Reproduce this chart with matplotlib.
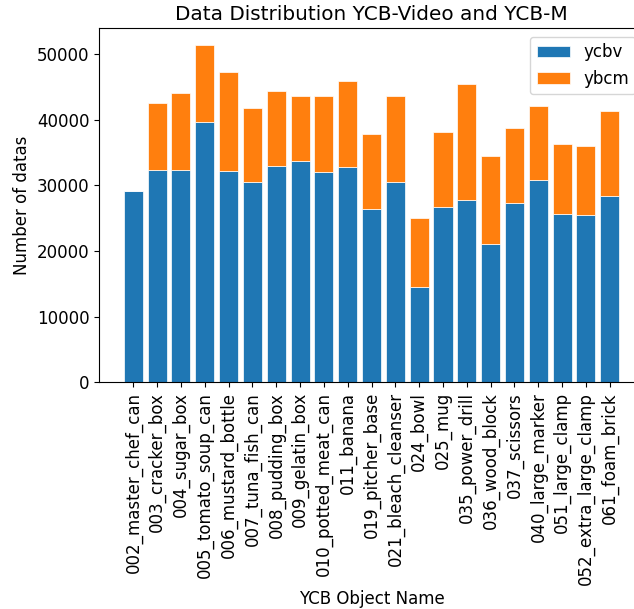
import numpy as np
import matplotlib
matplotlib.use("Agg")
import matplotlib.pyplot as plt

objects = [
    "002_master_chef_can", "003_cracker_box", "004_sugar_box", "005_tomato_soup_can",
    "006_mustard_bottle", "007_tuna_fish_can", "008_pudding_box", "009_gelatin_box",
    "010_potted_meat_can", "011_banana", "019_pitcher_base", "021_bleach_cleanser",
    "024_bowl", "025_mug", "035_power_drill", "036_wood_block", "037_scissors",
    "040_large_marker", "051_large_clamp", "052_extra_large_clamp", "061_foam_brick",
]

ycbv = [29200, 32300, 32300, 39700, 32200, 30550, 32900, 33700, 32050, 32750,
        26400, 30550, 14550, 26650, 27800, 21050, 27300, 30750, 25700, 25550, 28350]
ybcm = [0, 10300, 11700, 11650, 15050, 11300, 11400, 9900, 11600, 13200,
        11450, 13100, 10550, 11500, 17600, 13450, 11400, 11300, 10550, 10500, 12950]

plt.rcParams["font.size"] = 12

fig = plt.figure(figsize=(6.34, 6.09), dpi=100)
ax = fig.add_axes([0.1562, 0.3722, 0.8596, 0.5813])

x = np.arange(len(objects))
ax.bar(x, ycbv, width=0.8, color="#1f77b4", edgecolor="white", linewidth=0.5, label="ycbv")
ax.bar(x, ybcm, width=0.8, bottom=ycbv, color="#ff7f0e", edgecolor="white", linewidth=0.5, label="ybcm")

ax.set_xticks(x)
ax.set_xticklabels(objects, rotation=90)
ax.set_xlabel("YCB Object Name")
ax.set_ylabel("Number of datas")
ax.set_title("Data Distribution YCB-Video and YCB-M")
ax.legend(loc="upper right")

fig.savefig("out.png", dpi=100)
